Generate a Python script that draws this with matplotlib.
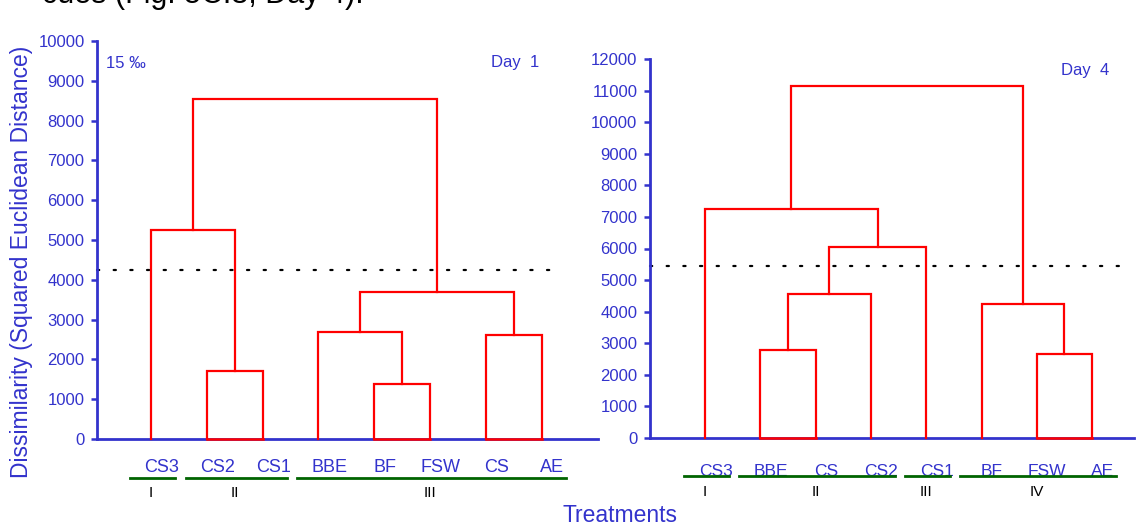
import matplotlib
matplotlib.use("Agg")
import matplotlib.pyplot as plt
import matplotlib.transforms as mtransforms

plt.rcParams['font.family'] = ['Liberation Sans', 'DejaVu Sans']

# ---------------- data ----------------
day1_leaves = ['CS3', 'CS2', 'CS1', 'BBE', 'BF', 'FSW', 'CS', 'AE']
# merges: (child a, child b, height); ids >= n refer to earlier merges
day1_merges = [(1, 2, 1700), (4, 5, 1380), (6, 7, 2610), (3, 9, 2690),
               (11, 10, 3690), (0, 8, 5250), (13, 12, 8540)]
day1_cut = 4245
day1_groups = [(0, 0, 'I'), (1, 2, 'II'), (3, 7, 'III')]
day1_yticks = list(range(0, 10001, 1000))

day4_leaves = ['CS3', 'BBE', 'CS', 'CS2', 'CS1', 'BF', 'FSW', 'AE']
day4_merges = [(1, 2, 2800), (6, 7, 2660), (8, 3, 4560), (5, 9, 4240),
               (10, 4, 6050), (0, 12, 7250), (13, 11, 11150)]
day4_cut = 5450
day4_groups = [(0, 0, 'I'), (1, 3, 'II'), (4, 4, 'III'), (5, 7, 'IV')]
day4_yticks = list(range(0, 12001, 1000))

BLUE = '#3333cc'
RED = '#ff0000'
GREEN = '#006400'

W, H = 1136, 525
fig = plt.figure(figsize=(W / 100, H / 100), dpi=100)


def fy(px):
    return 1 - px / H


def make_axes(x0, x1, y0px, ytop_px, leaf0_px, step_px, ymax):
    ax = fig.add_axes([x0 / W, fy(y0px), (x1 - x0) / W, (y0px - ytop_px) / H])
    ax.set_xlim(-(leaf0_px - x0) / step_px, (x1 - leaf0_px) / step_px)
    ax.set_ylim(0, ymax)
    for s in ['top', 'right']:
        ax.spines[s].set_visible(False)
    for s in ['left', 'bottom']:
        ax.spines[s].set_color(BLUE)
        ax.spines[s].set_linewidth(2.0)
    ax.set_xticks([])
    ax.tick_params(axis='y', colors=BLUE, labelcolor=BLUE, direction='out',
                   length=4, width=1.8, labelsize=12, pad=5)
    ax.patch.set_alpha(0)
    return ax


def draw_dendro(ax, n, merges):
    pos = {i: float(i) for i in range(n)}
    hgt = {i: 0.0 for i in range(n)}
    for k, (a, b, h) in enumerate(merges):
        xa, xb = pos[a], pos[b]
        ax.plot([xa, xa, xb, xb], [hgt[a], h, h, hgt[b]], color=RED, lw=1.6,
                clip_on=False, zorder=5, solid_joinstyle='miter')
        if a < n and b < n:
            ax.plot([xa, xb], [0, 0], color=RED, lw=1.8, clip_on=False, zorder=6)
        pos[n + k] = (xa + xb) / 2
        hgt[n + k] = h


def draw_labels(ax, leaves, groups, lab_px, line_px, rom_px, lab_size):
    tr = mtransforms.blended_transform_factory(ax.transData, fig.transFigure)
    for i, name in enumerate(leaves):
        ax.text(i + 0.19, fy(lab_px), name, transform=tr, ha='center', va='center',
                color=BLUE, fontsize=lab_size, zorder=3)
    for a, b, rom in groups:
        ax.plot([a - 0.38, b + 0.43], [fy(line_px)] * 2, transform=tr, color=GREEN,
                lw=2.0, clip_on=False, zorder=4)
        ax.text((a + b) / 2, fy(rom_px), rom, transform=tr, ha='center', va='center',
                color='black', fontsize=11)


DOTS = (0, (1, 6.5))

# ---- Day 1 ----
ax1 = make_axes(97, 598, 439, 41, 151, 55.8, 10000)
ax1.set_yticks(day1_yticks)
draw_dendro(ax1, len(day1_leaves), day1_merges)
ax1.plot([ax1.get_xlim()[0], 7.28], [day1_cut, day1_cut], color='black', lw=1.6,
         linestyle=DOTS, dash_capstyle='round', clip_on=False)
draw_labels(ax1, day1_leaves, day1_groups, 468, 478, 493, 13)
fig.text(106 / W, fy(63), '15 ‰', ha='left', va='center', color=BLUE, fontsize=12)
fig.text(491 / W, fy(63), 'Day  1', ha='left', va='center', color=BLUE, fontsize=12)

# ---- Day 4 ----
ax2 = make_axes(650, 1134, 438, 59, 705, 55.3, 12000)
ax2.set_yticks(day4_yticks)
draw_dendro(ax2, len(day4_leaves), day4_merges)
ax2.plot([ax2.get_xlim()[0], 7.6], [day4_cut, day4_cut], color='black', lw=1.6,
         linestyle=DOTS, dash_capstyle='round', clip_on=False)
draw_labels(ax2, day4_leaves, day4_groups, 472, 476, 492, 12.5)
fig.text(1061 / W, fy(71), 'Day  4', ha='left', va='center', color=BLUE, fontsize=12)

# ---- shared text ----
fig.text(22 / W, fy(262), 'Dissimilarity (Squared Euclidean Distance)', rotation=90,
         ha='center', va='center', color=BLUE, fontsize=16.5)
fig.text(620 / W, fy(515), 'Treatments', ha='center', va='center', color=BLUE,
         fontsize=16.5)
fig.text(42 / W, fy(3), 'cues (Fig. 5C.3, Day 4).', ha='left', va='baseline',
         color='black', fontsize=22)

fig.savefig('out.png', dpi=100)
